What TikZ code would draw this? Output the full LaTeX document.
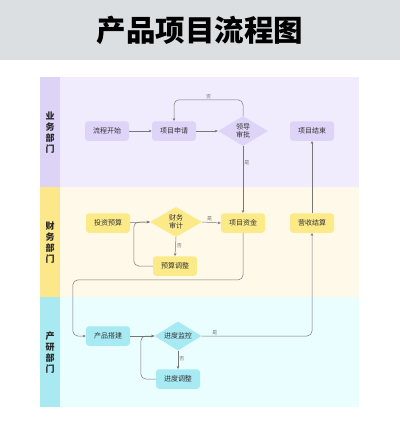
\documentclass[tikz,border=0pt]{standalone}
\usepackage{fontspec}
\setmainfont{Noto Sans CJK SC}
\usetikzlibrary{shapes.geometric,arrows.meta,calc}
\definecolor{titlebg}{HTML}{DCDFE2}
\definecolor{laneA}{HTML}{F1ECFD}
\definecolor{colA}{HTML}{DCD3F7}
\definecolor{nodeA}{HTML}{DDD4F7}
\definecolor{laneB}{HTML}{FEF9E8}
\definecolor{colB}{HTML}{FCE88A}
\definecolor{nodeB}{HTML}{FCEA88}
\definecolor{laneC}{HTML}{EAFDFF}
\definecolor{colC}{HTML}{A9EAF2}
\definecolor{nodeC}{HTML}{A7EAF3}
\definecolor{edgec}{HTML}{777777}
\definecolor{txt}{HTML}{333333}
\begin{document}
\begin{tikzpicture}[x=1pt,y=-1pt,
  proc/.style={rounded corners=3pt,minimum width=44pt,minimum height=19.5pt,inner sep=0pt,font=\fontsize{7}{8}\selectfont,text=txt},
  dec/.style={diamond,aspect=1.67,inner sep=0pt,font=\fontsize{7}{8.5}\selectfont,align=center,text=txt},
  arr/.style={draw=edgec,line width=0.5pt,-{Stealth[length=3pt,width=2.6pt]},rounded corners=5pt},
  elab/.style={font=\fontsize{5}{5}\selectfont,text=edgec,inner sep=1pt},
  lanelab/.style={font=\fontsize{9}{11}\selectfont\bfseries,align=center,text=black!85}]
\useasboundingbox (0,0) rectangle (400,440);
\fill[white] (0,0) rectangle (400,440);
% title
\fill[titlebg] (0,0) rectangle (400,60);
\node (title) at (200,30) {\fontsize{29.5}{30}\selectfont\bfseries 产品项目流程图};
% lanes
\fill[laneA] (40,77) rectangle (359,187);
\fill[colA] (40,77) rectangle (60,187);
\fill[laneB] (40,187) rectangle (359,297);
\fill[colB] (40,187) rectangle (60,297);
\fill[laneC] (40,297) rectangle (359,407);
\fill[colC] (40,297) rectangle (60,407);
\node[lanelab] (labA) at (50,133) {业\\务\\部\\门};
\node[lanelab] (labB) at (50,243) {财\\务\\部\\门};
\node[lanelab] (labC) at (50,353) {产\\研\\部\\门};
% nodes
\node[proc,fill=nodeA] (start) at (107,131) {流程开始};
\node[proc,fill=nodeA] (apply) at (174,131) {项目申请};
\node[dec,fill=nodeA,minimum width=50pt,minimum height=30pt] (approve) at (243,131) {领导\\审批};
\node[proc,fill=nodeA] (end) at (312,131) {项目结束};
\node[proc,fill=nodeB] (budget) at (108,223) {投资预算};
\node[dec,fill=nodeB,minimum width=52pt,minimum height=30pt] (audit) at (176,222) {财务\\审计};
\node[proc,fill=nodeB] (fund) at (243,223) {项目资金};
\node[proc,fill=nodeB] (revenue) at (312,223) {营收结算};
\node[proc,fill=nodeB] (adjust) at (175,266) {预算调整};
\node[proc,fill=nodeC] (build) at (108,336) {产品搭建};
\node[dec,fill=nodeC,minimum width=47pt,minimum height=29pt] (monitor) at (178,336) {进度监控};
\node[proc,fill=nodeC] (padjust) at (178,379) {进度调整};
% edges
\draw[arr] (start) -- (apply);
\draw[arr] (apply) -- (approve);
\draw[arr] (approve.north) -- ++(0,-16) -| node[elab,pos=0.25,above] {否} (apply.north);
\draw[arr] (approve.south) -- node[elab,pos=0.25,right] {是} (fund.north);
\draw[arr] (budget) -- (audit.west);
\draw[arr] (audit.east) -- node[elab,pos=0.4,above] {是} (fund.west);
\draw[arr] (audit.south) -- node[elab,pos=0.45,right] {否} (adjust.north);
\draw[arr] (adjust.west) -- ++(-19,0) |- (audit.west);
\draw[arr] (fund.south) -- ++(0,47) -| ($(build.west)+(-13,0)$) -- (build.west);
\draw[arr] (build) -- (monitor.west);
\draw[arr] (monitor.east) -| node[elab,pos=0.06,above] {是} (revenue.south);
\draw[arr] (monitor.south) -- node[elab,pos=0.45,right] {否} (padjust.north);
\draw[arr] (padjust.west) -- ++(-15,0) |- (monitor.west);
\draw[arr] (revenue.north) -- (end.south);
\end{tikzpicture}
\end{document}
